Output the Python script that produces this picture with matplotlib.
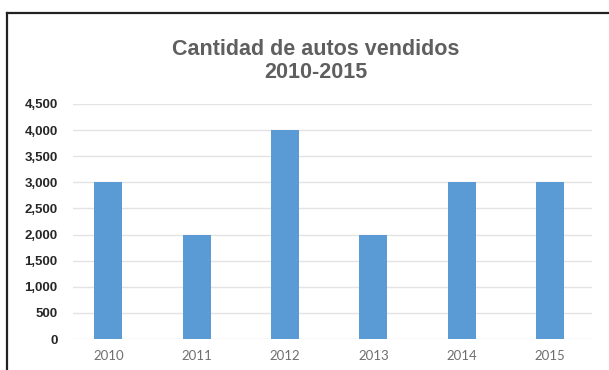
import matplotlib.pyplot as plt
from matplotlib.lines import Line2D
from matplotlib.ticker import FuncFormatter

# --- Data ---
anios = ["2010", "2011", "2012", "2013", "2014", "2015"]
autos_vendidos = [3000, 2000, 4000, 2000, 3000, 3000]
y_ticks = [0, 500, 1000, 1500, 2000, 2500, 3000, 3500, 4000, 4500]

fig = plt.figure(figsize=(6.09, 3.70), dpi=100)
fig.patch.set_facecolor("white")

# chart area (pixel coords converted to figure fractions)
W, H = 609, 370
left, right, top, bottom = 73, 592, 104, 339
ax = fig.add_axes([left / W, 1 - bottom / H, (right - left) / W, (bottom - top) / H])

x = list(range(len(anios)))
ax.bar(x, autos_vendidos, width=0.32, color="#5b9bd5", zorder=3)

ax.set_xlim(-0.4, len(anios) - 0.525)
ax.set_ylim(0, 4500)
ax.set_yticks(y_ticks)
ax.yaxis.set_major_formatter(FuncFormatter(lambda v, p: f"{int(v):,}"))
ax.set_xticks(x)
ax.set_xticklabels(anios)

ax.grid(axis="y", color="#e3e3e3", linewidth=1, zorder=0)
for s in ax.spines.values():
    s.set_visible(False)
ax.tick_params(axis="both", length=0)
ax.tick_params(axis="y", pad=11)
ax.tick_params(axis="x", pad=8)

for lbl in ax.get_yticklabels():
    lbl.set_fontfamily("Liberation Sans")
    lbl.set_fontweight("bold")
    lbl.set_fontsize(9.5)
    lbl.set_color("#262626")
for lbl in ax.get_xticklabels():
    lbl.set_fontfamily("Lato")
    lbl.set_fontsize(9.5)
    lbl.set_color("#6f6f6f")

# title
fig.text(316 / W, 1 - 61 / H, "Cantidad de autos vendidos\n2010-2015",
         ha="center", va="center", fontsize=15.5, fontweight="bold",
         family="Liberation Sans", color="#5f5f5f", linespacing=1.15)

# frame lines on top and left
fig.add_artist(Line2D([7 / W, 1], [1 - 13 / H, 1 - 13 / H], color="#222222", linewidth=1.6))
fig.add_artist(Line2D([7 / W, 7 / W], [0, 1 - 13 / H], color="#222222", linewidth=1.6))

fig.savefig("out.png", dpi=100)
